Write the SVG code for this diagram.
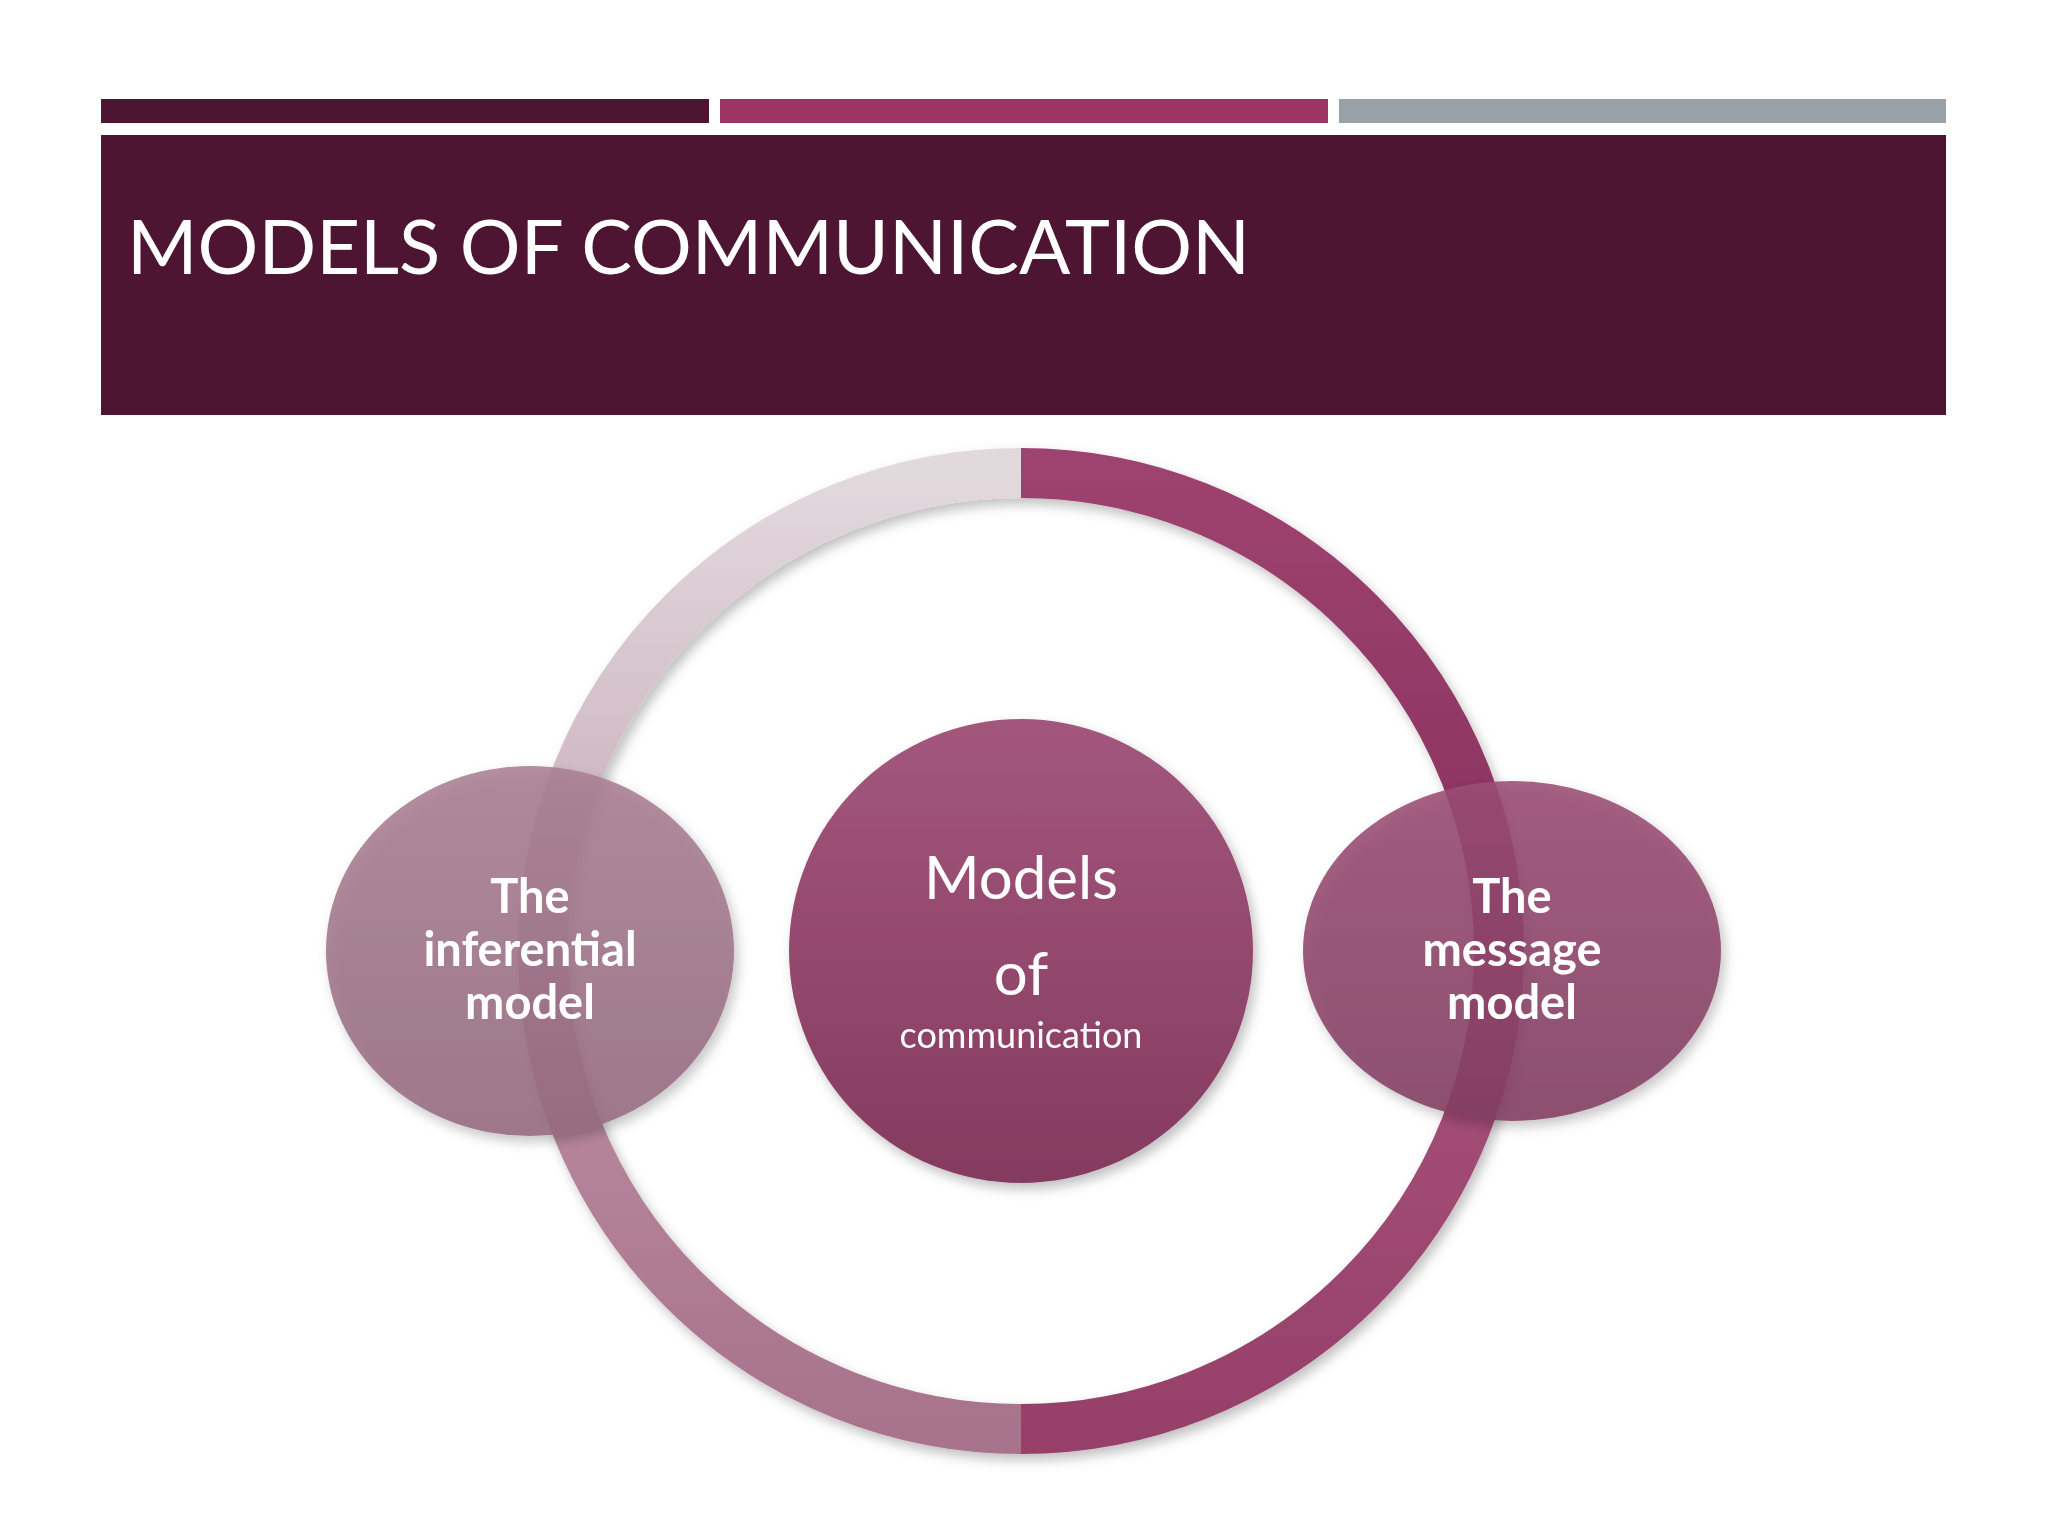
<svg xmlns="http://www.w3.org/2000/svg" width="2048" height="1536" viewBox="0 0 2048 1536">
<defs>
<style>
.lbl{font-family:"Lato","Open Sans",sans-serif;font-weight:bold;fill:#fff;text-anchor:middle;font-size:47px}
.c{font-family:"Lato","Open Sans",sans-serif;fill:#fff;text-anchor:middle}
.arc{fill:none;stroke-width:50}
</style>
<linearGradient id="gtl" x1="0" y1="0" x2="0" y2="1"><stop offset="0" stop-color="#e2d9dd"/><stop offset="1" stop-color="#c7a9b7"/></linearGradient>
<linearGradient id="gbl" x1="0" y1="0" x2="0" y2="1"><stop offset="0" stop-color="#bd8ea4"/><stop offset="1" stop-color="#a8738c"/></linearGradient>
<linearGradient id="gtr" x1="0" y1="0" x2="0" y2="1"><stop offset="0" stop-color="#9e426f"/><stop offset="1" stop-color="#86305c"/></linearGradient>
<linearGradient id="gbr" x1="0" y1="0" x2="0" y2="1"><stop offset="0" stop-color="#a8527c"/><stop offset="1" stop-color="#96406a"/></linearGradient>
<linearGradient id="gc" x1="0" y1="0" x2="0" y2="1"><stop offset="0" stop-color="#a3577d"/><stop offset="1" stop-color="#853a5f"/></linearGradient>
<linearGradient id="gl" x1="0" y1="0" x2="0" y2="1"><stop offset="0" stop-color="#a97f93"/><stop offset="1" stop-color="#956a80"/></linearGradient>
<linearGradient id="gr" x1="0" y1="0" x2="0" y2="1"><stop offset="0" stop-color="#9a4d74"/><stop offset="1" stop-color="#823e62"/></linearGradient>
<filter id="sh" x="-20%" y="-20%" width="140%" height="140%"><feDropShadow dx="4" dy="6" stdDeviation="6" flood-color="#000" flood-opacity="0.25"/></filter>
</defs>
<rect width="2048" height="1536" fill="#fff"/>
<g id="header">
<rect x="101" y="99" width="608" height="24" fill="#4e1533"/>
<rect x="720" y="99" width="608" height="24" fill="#9b3566"/>
<rect x="1339" y="99" width="607" height="24" fill="#9aa1a6"/>
<rect x="101" y="135" width="1845" height="280" fill="#4e1533"/>
<text x="127" y="274" font-family="Lato,'Open Sans',sans-serif" font-size="76" fill="#fff">MODELS OF COMMUNICATION</text>
</g>
<g id="connectors" filter="url(#sh)">
<path class="arc" stroke="url(#gtl)" d="M543 951 A478 478 0 0 1 1021 473"/>
<path class="arc" stroke="url(#gtr)" d="M1021 473 A478 478 0 0 1 1499 951"/>
<path class="arc" stroke="url(#gbr)" d="M1499 951 A478 478 0 0 1 1021 1429"/>
<path class="arc" stroke="url(#gbl)" d="M1021 1429 A478 478 0 0 1 543 951"/>
</g>
<g id="center" filter="url(#sh)">
<circle cx="1021" cy="951" r="232" fill="url(#gc)"/>
<text class="c" x="1021" y="899" font-size="60">Models</text>
<text class="c" x="1021" y="995" font-size="60">of</text>
<text class="c" x="1021" y="1048" font-size="36">communication</text>
</g>
<g id="left" filter="url(#sh)">
<ellipse cx="530" cy="951" rx="204" ry="185" fill="url(#gl)" opacity="0.88"/>
<text class="lbl" x="530" y="913">The</text>
<text class="lbl" x="530" y="966">inferential</text>
<text class="lbl" x="530" y="1019">model</text>
</g>
<g id="right" filter="url(#sh)">
<ellipse cx="1512" cy="951" rx="209" ry="170" fill="url(#gr)" opacity="0.88"/>
<text class="lbl" x="1512" y="913">The</text>
<text class="lbl" x="1512" y="966">message</text>
<text class="lbl" x="1512" y="1019">model</text>
</g>
</svg>
